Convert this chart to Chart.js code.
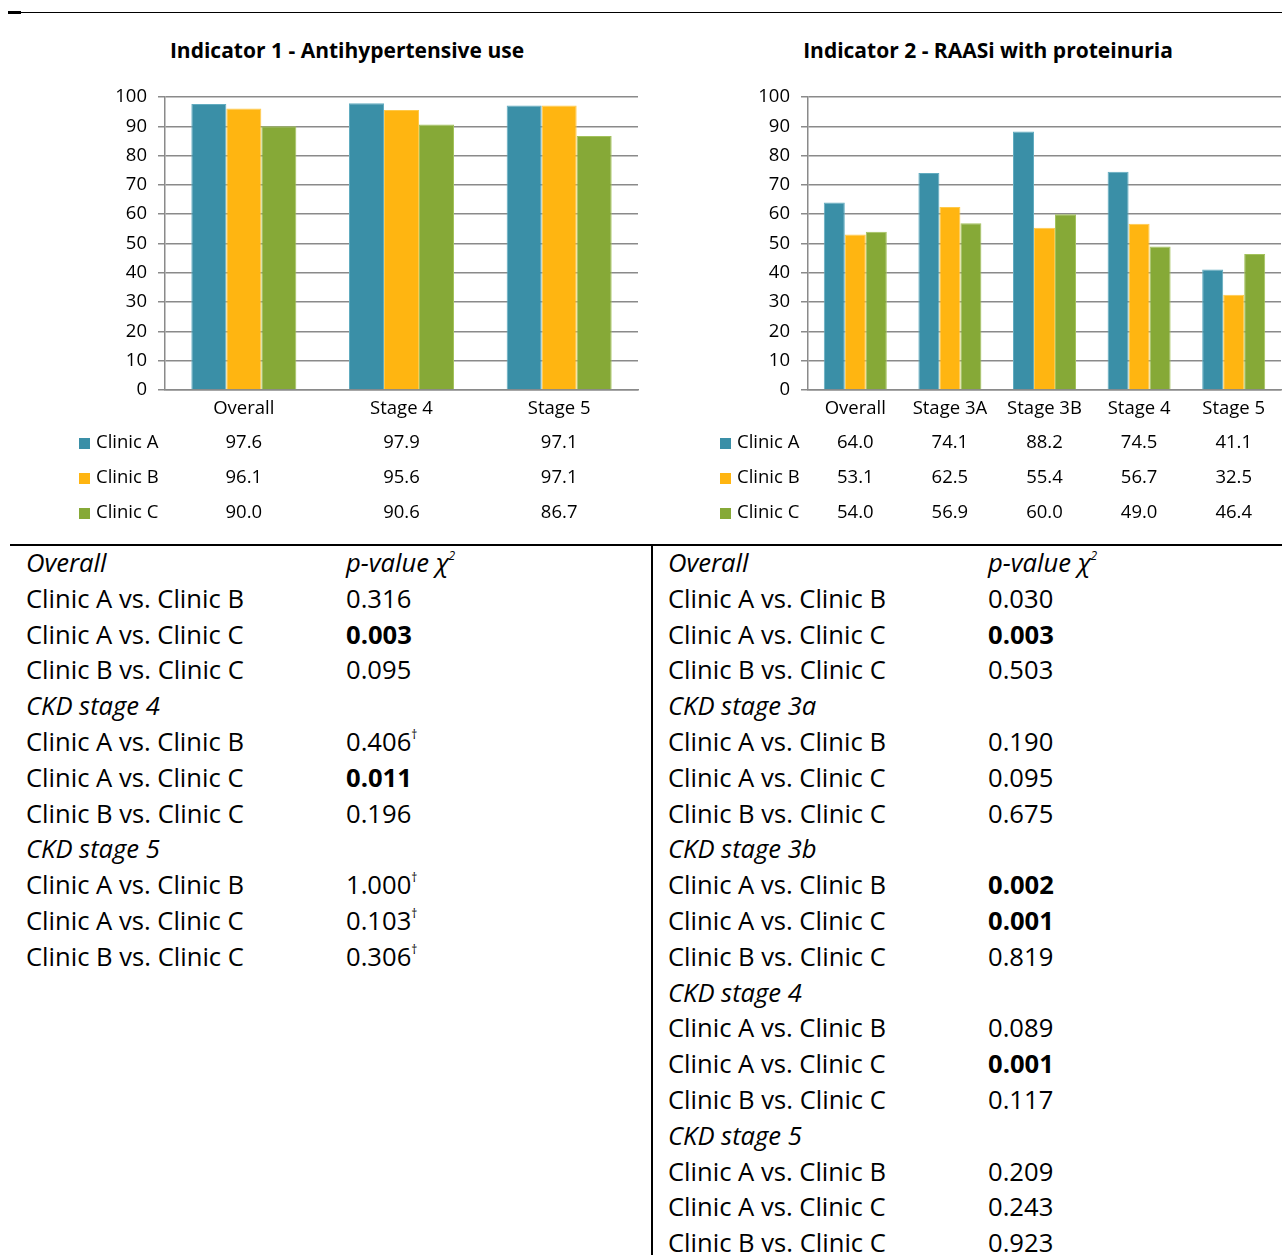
<!DOCTYPE html>
<html>
<head>
<meta charset="utf-8">
<script src="https://cdn.jsdelivr.net/npm/chart.js@4"></script>
<style>
  body { margin: 0; background: #fff; font-family: "Open Sans", sans-serif; }
  #page { position: relative; width: 1282px; height: 1255px; overflow: hidden; }
  canvas { position: absolute; }
  .title { position: absolute; top: 35px; font-weight: bold; font-size: 21px; line-height: 30px; text-align: center; width: 500px; }
  .line { position: absolute; background: #000; }
  .row { position: absolute; font-size: 25.6px; line-height: 30px; height: 30px; white-space: nowrap; }
  .row sup { font-size: 12px; line-height: 0; vertical-align: baseline; position: relative; top: -12px; }
</style>
</head>
<body>
<div id="page">
  <div class="line" style="left:8px;top:12px;width:1274px;height:1px"></div>
  <div class="line" style="left:8px;top:11px;width:13px;height:3px"></div>
  <div class="line" style="left:10px;top:544px;width:1272px;height:2px"></div>
  <div class="line" style="left:651px;top:545px;width:2px;height:710px"></div>

  <div class="title" style="left:97px">Indicator 1 - Antihypertensive use</div>
  <div class="title" style="left:738px">Indicator 2 - RAASi with proteinuria</div>

  <canvas id="chart1" width="645" height="515" style="left:0;top:20px"></canvas>
  <canvas id="chart2" width="622" height="515" style="left:660px;top:20px"></canvas>
</div>
<script>
// categories
const ind1Labels = ["Overall", "Stage 4", "Stage 5"];
const ind2Labels = ["Overall", "Stage 3A", "Stage 3B", "Stage 4", "Stage 5"];
const clinics = ["Clinic A", "Clinic B", "Clinic C"];
const clinicColors = ["#3a8fa7", "#ffb511", "#86a937"];
const clinicBorders = ["#62acc0", "#ffc94a", "#a3c25c"];

// percentages (from the data tables)
const ind1ClinicA = [97.6, 97.9, 97.1];
const ind1ClinicB = [96.1, 95.6, 97.1];
const ind1ClinicC = [90.0, 90.6, 86.7];
const ind2ClinicA = [64.0, 74.1, 88.2, 74.5, 41.1];
const ind2ClinicB = [53.1, 62.5, 55.4, 56.7, 32.5];
const ind2ClinicC = [54.0, 56.9, 60.0, 49.0, 46.4];
const yTicks = [0, 10, 20, 30, 40, 50, 60, 70, 80, 90, 100];

// p-value tables
const pairs = ["Clinic A vs. Clinic B", "Clinic A vs. Clinic C", "Clinic B vs. Clinic C"];
const ind1Groups = ["Overall", "CKD stage 4", "CKD stage 5"];
const ind1P = [[0.316, 0.003, 0.095], [0.406, 0.011, 0.196], [1.000, 0.103, 0.306]];
const ind1Fisher = [[0, 0, 0], [1, 0, 0], [1, 1, 1]];
const ind2Groups = ["Overall", "CKD stage 3a", "CKD stage 3b", "CKD stage 4", "CKD stage 5"];
const ind2P = [[0.030, 0.003, 0.503], [0.190, 0.095, 0.675], [0.002, 0.001, 0.819], [0.089, 0.001, 0.117], [0.209, 0.243, 0.923]];
const ind2Fisher = [[0, 0, 0], [0, 0, 0], [0, 0, 0], [0, 0, 0], [0, 0, 0]];
const alpha = 0.05 / 3;

const FONT = '"Open Sans", sans-serif';
const GRID = "#8a8a8a";

// data table drawn under the x axis
const dataTable = {
  id: "dataTable",
  afterDraw(chart, args, opts) {
    const ctx = chart.ctx;
    const xs = chart.scales.x;
    ctx.save();
    ctx.font = "18.5px " + FONT;
    ctx.textBaseline = "middle";
    chart.data.datasets.forEach((ds, r) => {
      const y = opts.rowY[r];
      ctx.fillStyle = ds.backgroundColor;
      ctx.fillRect(opts.swatchX, y - 5, 11, 11);
      ctx.fillStyle = "#000";
      ctx.textAlign = "left";
      ctx.fillText(ds.label, opts.swatchX + 17, y);
      ctx.textAlign = "center";
      ds.data.forEach((v, i) => ctx.fillText(v.toFixed(1), xs.getPixelForValue(i), y));
    });
    ctx.restore();
  }
};

function makeChart(id, labels, series, axisWidth, padRight, swatchX) {
  return new Chart(document.getElementById(id), {
    type: "bar",
    data: {
      labels: labels,
      datasets: series.map((d, i) => ({
        label: clinics[i],
        data: d,
        backgroundColor: clinicColors[i],
        borderColor: clinicBorders[i],
        borderWidth: 1,
        categoryPercentage: 0.666,
        barPercentage: 1
      }))
    },
    options: {
      responsive: false,
      animation: false,
      layout: { padding: { top: 77, right: padRight, bottom: 0, left: 0 } },
      plugins: {
        legend: { display: false },
        tooltip: { enabled: false },
        dataTable: { rowY: [423, 458, 493], swatchX: swatchX }
      },
      scales: {
        x: {
          grid: { display: false, drawTicks: false },
          border: { color: GRID, width: 1.5 },
          ticks: { color: "#000", font: { family: FONT, size: 18.5 }, padding: 8 },
          afterFit: (s) => { s.height = 145; }
        },
        y: {
          min: 0,
          max: 100,
          afterBuildTicks: (s) => { s.ticks = yTicks.map((v) => ({ value: v })); },
          grid: { color: GRID, lineWidth: 1.5, tickLength: 7 },
          border: { color: GRID, width: 1.5 },
          ticks: { color: "#000", font: { family: FONT, size: 18.5 }, padding: 11 },
          afterFit: (s) => { s.width = axisWidth; }
        }
      }
    },
    plugins: [dataTable]
  });
}

makeChart("chart1", ind1Labels, [ind1ClinicA, ind1ClinicB, ind1ClinicC], 165, 7, 79);
makeChart("chart2", ind2Labels, [ind2ClinicA, ind2ClinicB, ind2ClinicC], 148, 1, 60);

// p-value tables
function pTable(groups, pvals, fisher, left, pLeft) {
  const page = document.getElementById("page");
  let row = 0;
  const add = (x, html) => {
    const d = document.createElement("div");
    d.className = "row";
    d.style.left = x + "px";
    d.style.top = (563 + row * 35.8 - 15) + "px";
    d.innerHTML = html;
    page.appendChild(d);
  };
  groups.forEach((g, gi) => {
    add(left, "<i>" + g + "</i>");
    if (gi === 0) add(pLeft, "<i>p-value χ</i><sup><i>2</i></sup>");
    row++;
    pairs.forEach((p, pi) => {
      const v = pvals[gi][pi];
      let s = v.toFixed(3);
      if (v < alpha) s = "<b>" + s + "</b>";
      if (fisher[gi][pi]) s += "<sup>†</sup>";
      add(left, p);
      add(pLeft, s);
      row++;
    });
  });
}
pTable(ind1Groups, ind1P, ind1Fisher, 26, 346);
pTable(ind2Groups, ind2P, ind2Fisher, 668, 988);
</script>
</body>
</html>
